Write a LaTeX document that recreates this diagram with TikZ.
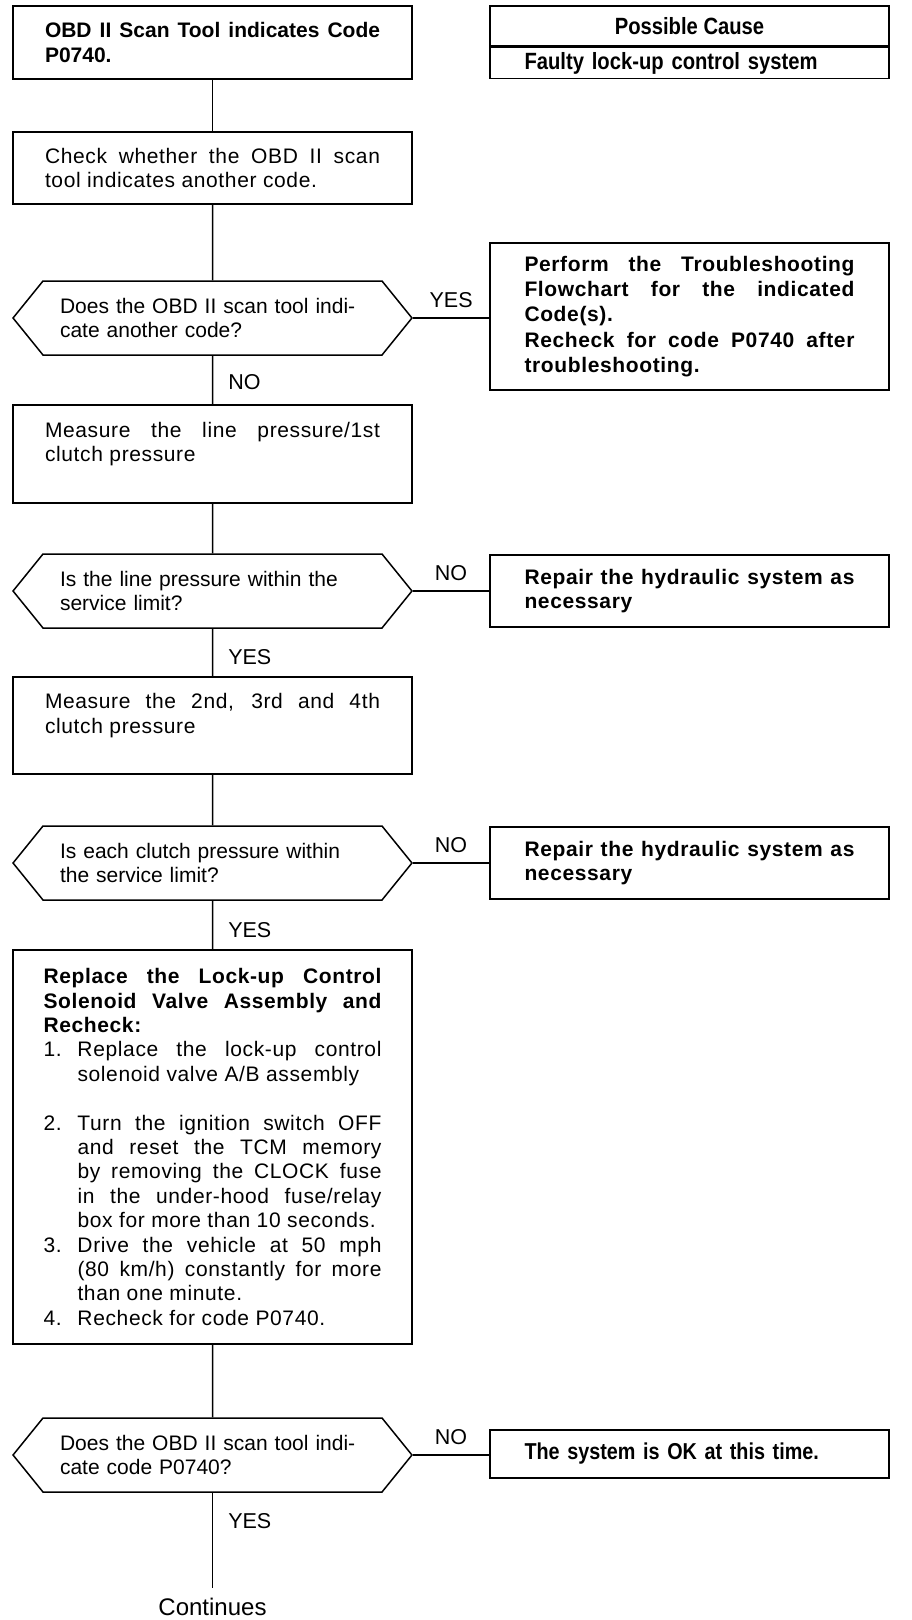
\documentclass[tikz,border=0pt]{standalone}
\usepackage{fontspec}
\setmainfont{Liberation Sans}
\newfontfamily\widefont[LetterSpace=3]{Liberation Sans}
\newfontfamily\narrowfont[FakeStretch=0.86]{Liberation Sans}
\usetikzlibrary{shapes.symbols}
\tolerance=9999
\hbadness=10000
\hyphenpenalty=10000

\newcommand{\numitem}[1]{\par\hangindent=34pt\hangafter=1\noindent\makebox[34pt][l]{#1}}

\tikzset{
  stepbox/.style={draw, line width=1.5pt, minimum width=399pt, text width=335pt,
    inner xsep=32pt, inner ysep=0pt, align=justify,
    font=\widefont\fontsize{21}{24.5}\selectfont},
  actbox/.style={stepbox, text width=330pt, inner xsep=34.5pt,
    font=\widefont\fontsize{21}{24.5}\selectfont\bfseries},
  causecell/.style={draw, line width=1.5pt, minimum width=399pt, inner ysep=0pt,
    font=\narrowfont\fontsize{23.5}{26}\selectfont\bfseries},
  question/.style={draw, line width=1.5pt, shape=signal, signal to=west and east,
    signal pointer angle=102, minimum height=74pt, text width=305pt,
    inner xsep=17pt, inner ysep=0pt, align=left,
    font=\fontsize{21}{24}\selectfont},
  answer/.style={font=\fontsize{21.5}{24}\selectfont, inner sep=2pt},
  link/.style={line width=1.5pt}
}

\begin{document}
\begin{tikzpicture}[x=1pt, y=-1pt]
  \useasboundingbox (0,0) rectangle (912,1620);

  % left column
  \node[stepbox, minimum height=73pt, font=\fontsize{21}{24.5}\selectfont\bfseries] (start) at (212.5,42.5)
    {OBD II Scan Tool indicates Code\linebreak P0740.};
  \node[stepbox, minimum height=72pt] (check) at (212.5,168)
    {Check whether the OBD II scan\linebreak tool indicates another code.};
  \node[question] (q1) at (212.5,318) {Does the OBD II scan tool indi-\\cate another code?};
  \node[stepbox, minimum height=98pt] (measure1) at (212.5,454)
    {Measure the line pressure/1st\linebreak clutch pressure\\\mbox{}};
  \node[question] (q2) at (212.5,591) {Is the line pressure within the\\service limit?};
  \node[stepbox, minimum height=97pt] (measure2) at (212.5,725.5)
    {Measure the 2nd, 3rd and 4th\linebreak clutch pressure\\\mbox{}};
  \node[question] (q3) at (212.5,863) {Is each clutch pressure within\\the service limit?};
  \node[stepbox, text width=338pt, inner xsep=30.5pt, minimum height=394pt,
    font=\widefont\fontsize{21}{24.4}\selectfont] (replace) at (212.5,1147)
    {\textbf{Replace the Lock-up Control\linebreak Solenoid Valve Assembly and\linebreak Recheck:}
     \numitem{1.}Replace the lock-up control\linebreak solenoid valve A/B assembly\par\vspace{24.4pt}
     \numitem{2.}Turn the ignition switch OFF\linebreak and reset the TCM memory\linebreak
       by removing the CLOCK fuse\linebreak in the under-hood fuse/relay\linebreak
       box for more than 10 seconds.
     \numitem{3.}Drive the vehicle at 50 mph\linebreak (80 km/h) constantly for more\linebreak
       than one minute.
     \numitem{4.}Recheck for code P0740.};
  \node[question] (q4) at (212.5,1455) {Does the OBD II scan tool indi-\\cate code P0740?};
  \coordinate (stop) at (212.5,1588);
  \node[font=\fontsize{24}{28}\selectfont, inner sep=0pt] (cont) at (212.5,1607) {Continues};

  % right column
  \node[causecell, minimum height=40pt] (causehead) at (689.5,26) {Possible Cause};
  \node[causecell, minimum height=31pt, text width=330pt, inner xsep=34.5pt, align=left,
    anchor=north] (causerow) at (causehead.south) {Faulty lock-up control system};
  \node[actbox, minimum height=147pt, font=\widefont\fontsize{21}{25.2}\selectfont\bfseries] (perform) at (689.5,316.5)
    {Perform the Troubleshooting\linebreak Flowchart for the indicated\linebreak Code(s).\\
     Recheck for code P0740 after\linebreak troubleshooting.};
  \node[actbox, minimum height=72pt] (repair1) at (689.5,591)
    {Repair the hydraulic system as\linebreak necessary};
  \node[actbox, minimum height=72pt] (repair2) at (689.5,863)
    {Repair the hydraulic system as\linebreak necessary};
  \node[causecell, minimum height=48pt, text width=330pt, inner xsep=34.5pt, align=left,
    font=\narrowfont\fontsize{23}{26}\selectfont\bfseries] (okbox) at (689.5,1454)
    {The system is OK at this time.};

  % connectors
  \draw[link] (start) -- (check);
  \draw[link] (check) -- (q1);
  \draw[link] (q1.east) -- node[answer, above=8pt] {YES} (q1.east -| perform.west);
  \draw[link] (q1) -- node[answer, right=13pt, pos=0.54] {NO} (measure1);
  \draw[link] (measure1) -- (q2);
  \draw[link] (q2.east) -- node[answer, above=8pt] {NO} (q2.east -| repair1.west);
  \draw[link] (q2) -- node[answer, right=13pt, pos=0.59] {YES} (measure2);
  \draw[link] (measure2) -- (q3);
  \draw[link] (q3.east) -- node[answer, above=8pt] {NO} (q3.east -| repair2.west);
  \draw[link] (q3) -- node[answer, right=13pt, pos=0.61] {YES} (replace);
  \draw[link] (replace) -- (q4);
  \draw[link] (q4.east) -- node[answer, above=8pt] {NO} (q4.east -| okbox.west);
  \draw[link] (q4) -- node[answer, right=13pt, pos=0.3] {YES} (stop);
\end{tikzpicture}
\end{document}
